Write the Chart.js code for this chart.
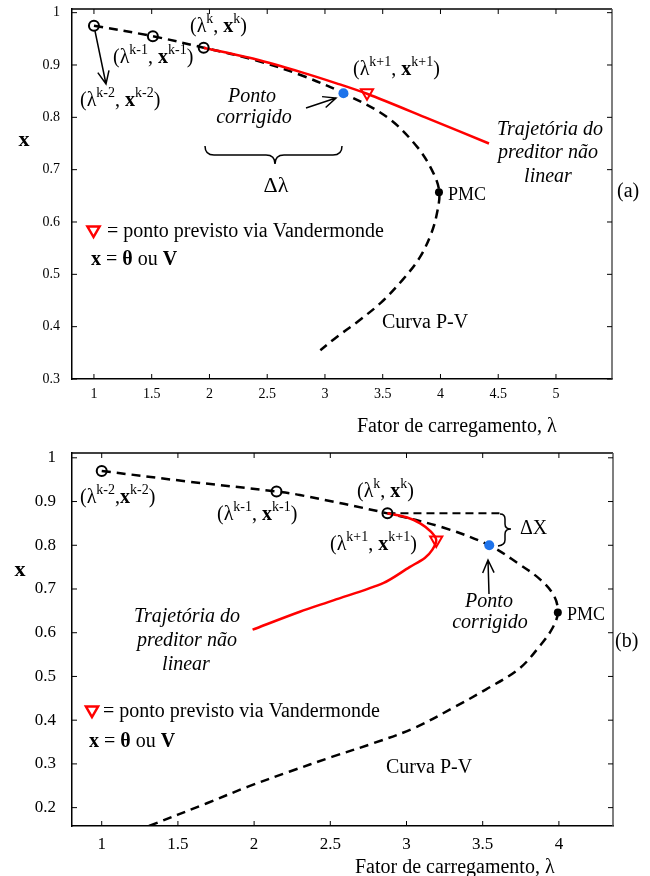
<!DOCTYPE html>
<html>
<head>
<meta charset="utf-8">
<script src="https://cdn.jsdelivr.net/npm/chart.js@4.4.0/dist/chart.umd.min.js"></script>
<style>
  html, body { margin: 0; padding: 0; background: #fff; }
  #wrap { position: relative; width: 650px; height: 876px; }
  canvas { position: absolute; left: 0; }
  #chartA { top: 0; }
  #chartB { top: 440px; }
</style>
</head>
<body>
<div id="wrap">
  <canvas id="chartA" width="650" height="440"></canvas>
  <canvas id="chartB" width="650" height="436"></canvas>
</div>
<script>
/* ---- (a) preditor com trajetória quase linear ---- */
const ticksLambdaA = [1, 1.5, 2, 2.5, 3, 3.5, 4, 4.5, 5];
const ticksXA      = [0.3, 0.4, 0.5, 0.6, 0.7, 0.8, 0.9, 1];

const pvLambdaA = [1.00, 1.51, 1.95, 2.40, 2.80, 3.16, 3.54, 3.80, 3.94, 3.99, 3.97, 3.92, 3.82, 3.67, 3.49, 3.28, 3.10, 2.96];
const pvXA      = [0.975, 0.955, 0.933, 0.909, 0.880, 0.846, 0.800, 0.743, 0.693, 0.657, 0.617, 0.578, 0.532, 0.489, 0.447, 0.409, 0.380, 0.355];

const predLambdaA = [1.95, 2.40, 2.80, 3.10, 3.364, 3.90, 4.42];
const predXA      = [0.933, 0.911, 0.886, 0.865, 0.845, 0.797, 0.750];

const pastLambdaA = [1.00, 1.51, 1.95];
const pastXA      = [0.975, 0.955, 0.933];
const nextLambdaA = [3.364];   // ponto previsto (Vandermonde)
const nextXA      = [0.847];
const corrLambdaA = [3.16];    // ponto corrigido
const corrXA      = [0.846];
const pmcLambdaA  = [3.987];
const pmcXA       = [0.657];

/* ---- (b) preditor com trajetória curva ---- */
const ticksLambdaB = [1, 1.5, 2, 2.5, 3, 3.5, 4];
const ticksXB      = [0.2, 0.3, 0.4, 0.5, 0.6, 0.7, 0.8, 0.9, 1];

const pvLambdaB = [1.00, 1.56, 2.147, 2.30, 2.875, 3.245, 3.543, 3.73, 3.88, 3.97, 3.993, 3.96, 3.88, 3.74, 3.52, 3.32, 3.05, 2.78, 2.51, 2.23, 1.96, 1.69, 1.31];
const pvXB      = [0.970, 0.946, 0.923, 0.915, 0.873, 0.840, 0.800, 0.759, 0.721, 0.683, 0.646, 0.612, 0.572, 0.518, 0.470, 0.431, 0.382, 0.347, 0.316, 0.282, 0.248, 0.210, 0.158];

const predLambdaB = [2.875, 3.00, 3.09, 3.16, 3.195, 3.17, 3.12, 3.02, 2.85, 2.52, 2.30, 1.99];
const predXB      = [0.873, 0.864, 0.850, 0.831, 0.812, 0.790, 0.771, 0.750, 0.714, 0.674, 0.648, 0.607];

const pastLambdaB = [1.00, 2.147, 2.875];
const pastXB      = [0.970, 0.923, 0.873];
const nextLambdaB = [3.195];
const nextXB      = [0.812];
const corrLambdaB = [3.543];
const corrXB      = [0.800];
const pmcLambdaB  = [3.993];
const pmcXB       = [0.646];
const dxLambdaB   = [2.875, 3.63];  // referência horizontal de Δx
const dxXB        = [0.873, 0.873];

const SERIF = '"Liberation Serif", "Times New Roman", serif';
Chart.defaults.font.family = SERIF;
Chart.defaults.color = '#000';

const RED = '#ff0000';
const BLUE = 'rgb(30, 115, 235)';

const pts = (ls, xs) => ls.map((l, i) => ({ x: l, y: xs[i] }));

function buildDatasets(d) {
  const sets = [
    { data: pts(d.pvL, d.pvX), showLine: true, borderColor: '#000', borderWidth: 2.5,
      borderDash: [9, 6], tension: 0.35, pointRadius: 0, order: 3 },
    { data: pts(d.predL, d.predX), showLine: true, borderColor: RED, borderWidth: 2.5,
      tension: 0.3, pointRadius: 0, order: 2 },
    { data: pts(d.pastL, d.pastX), showLine: false, pointRadius: 5, pointBorderWidth: 2,
      pointBorderColor: '#000', pointBackgroundColor: 'rgba(0,0,0,0)', order: 1 },
    { data: pts(d.nextL, d.nextX), showLine: false, pointStyle: 'triangle', rotation: 180,
      pointRadius: 7, pointBorderWidth: 2, pointBorderColor: RED,
      pointBackgroundColor: 'rgba(0,0,0,0)', order: 0 },
    { data: pts(d.corrL, d.corrX), showLine: false, pointRadius: 5, pointBorderWidth: 0,
      pointBackgroundColor: BLUE, order: 0 },
    { data: pts(d.pmcL, d.pmcX), showLine: false, pointRadius: 4, pointBorderWidth: 0,
      pointBackgroundColor: '#000', order: 0 }
  ];
  if (d.dxL) {
    sets.push({ data: pts(d.dxL, d.dxX), showLine: true, borderColor: '#000', borderWidth: 2,
      borderDash: [8, 5], pointRadius: 0, order: 3 });
  }
  return sets;
}

/* moldura com marcas internas nos quatro lados */
const frame = {
  id: 'frame',
  afterDatasetsDraw(chart) {
    const { ctx, chartArea: a, scales: { x, y } } = chart;
    const seg = (x1, y1, x2, y2) => { ctx.beginPath(); ctx.moveTo(x1, y1); ctx.lineTo(x2, y2); ctx.stroke(); };
    ctx.save();
    ctx.lineWidth = 1.5;
    ctx.strokeStyle = '#000';
    seg(a.left, a.top, a.right, a.top);
    ctx.strokeStyle = '#555';
    seg(a.right, a.top, a.right, a.bottom);
    ctx.strokeStyle = '#000';
    ctx.lineWidth = 1;
    const t = 5;
    x.ticks.forEach(tk => {
      const p = x.getPixelForValue(tk.value);
      seg(p, a.bottom, p, a.bottom - t);
      seg(p, a.top, p, a.top + t);
    });
    y.ticks.forEach(tk => {
      const p = y.getPixelForValue(tk.value);
      seg(a.left, p, a.left + t, p);
      seg(a.right, p, a.right - t, p);
    });
    ctx.restore();
  }
};

/* texto com sobrescritos, negrito e itálico: partes [texto, 'b'|'i'|'s'] */
function rich(ctx, x, y, parts, size, align) {
  const fontOf = f => (f.includes('i') ? 'italic ' : '') + (f.includes('b') ? 'bold ' : '') +
    (f.includes('s') ? Math.round(size * 0.68) : size) + 'px ' + SERIF;
  let w = 0;
  parts.forEach(([t, f = '']) => { ctx.font = fontOf(f); w += ctx.measureText(t).width; });
  let cx = align === 'center' ? x - w / 2 : align === 'right' ? x - w : x;
  ctx.textAlign = 'left';
  ctx.textBaseline = 'middle';
  parts.forEach(([t, f = '']) => {
    ctx.font = fontOf(f);
    ctx.fillText(t, cx, f.includes('s') ? y - size * 0.36 : y);
    cx += ctx.measureText(t).width;
  });
}

function arrow(ctx, x1, y1, x2, y2) {
  const ang = Math.atan2(y2 - y1, x2 - x1), L = 14, s = 0.42;
  ctx.beginPath();
  ctx.moveTo(x1, y1); ctx.lineTo(x2, y2);
  ctx.moveTo(x2 - L * Math.cos(ang - s), y2 - L * Math.sin(ang - s));
  ctx.lineTo(x2, y2);
  ctx.lineTo(x2 - L * Math.cos(ang + s), y2 - L * Math.sin(ang + s));
  ctx.stroke();
}

function downTriangle(ctx, cx, cy, r) {
  ctx.save();
  ctx.strokeStyle = RED;
  ctx.lineWidth = 2.5;
  ctx.beginPath();
  ctx.moveTo(cx, cy + r);
  ctx.lineTo(cx - r * 0.866, cy - r / 2);
  ctx.lineTo(cx + r * 0.866, cy - r / 2);
  ctx.closePath();
  ctx.stroke();
  ctx.restore();
}

const lam = (k) => [['(λ'], [k, 's'], [', '], ['x', 'b'], [k, 's'], [')']];

function notesA(chart) {
  const ctx = chart.ctx;
  ctx.save();
  ctx.fillStyle = '#000';
  ctx.strokeStyle = '#000';
  rich(ctx, 24, 140, [['x', 'b']], 22, 'center');
  rich(ctx, 190, 27, lam('k'), 20, 'left');
  rich(ctx, 113, 58, lam('k-1'), 20, 'left');
  rich(ctx, 80, 101, lam('k-2'), 20, 'left');
  rich(ctx, 353, 70, lam('k+1'), 20, 'left');
  rich(ctx, 252, 97, [['Ponto', 'i']], 20, 'center');
  rich(ctx, 254, 118, [['corrigido', 'i']], 20, 'center');
  rich(ctx, 276, 186, [['Δλ']], 22, 'center');
  rich(ctx, 550, 130, [['Trajetória do', 'i']], 20, 'center');
  rich(ctx, 548, 153, [['preditor não', 'i']], 20, 'center');
  rich(ctx, 548, 177, [['linear', 'i']], 20, 'center');
  rich(ctx, 448, 195, [['PMC']], 18, 'left');
  rich(ctx, 617, 192, [['(a)']], 20, 'left');
  downTriangle(ctx, 93.5, 230, 7);
  rich(ctx, 107, 232, [['= ponto previsto via Vandermonde']], 20, 'left');
  rich(ctx, 91, 260, [['x', 'b'], [' = '], ['θ', 'b'], [' ou '], ['V', 'b']], 20, 'left');
  rich(ctx, 382, 323, [['Curva P-V']], 20, 'left');
  rich(ctx, 357, 427, [['Fator de carregamento, λ']], 20, 'left');

  ctx.lineWidth = 1.5;
  arrow(ctx, 95, 31, 106, 84);
  arrow(ctx, 306, 108, 336, 98);
  // chave sob o intervalo Δλ
  ctx.beginPath();
  ctx.moveTo(205, 146);
  ctx.quadraticCurveTo(205, 155, 214, 155);
  ctx.lineTo(266, 155);
  ctx.quadraticCurveTo(275, 155, 275, 164);
  ctx.quadraticCurveTo(275, 155, 284, 155);
  ctx.lineTo(333, 155);
  ctx.quadraticCurveTo(342, 155, 342, 146);
  ctx.stroke();
  ctx.restore();
}

function notesB(chart) {
  const ctx = chart.ctx;
  ctx.save();
  ctx.translate(0, -440);
  ctx.fillStyle = '#000';
  ctx.strokeStyle = '#000';
  rich(ctx, 20, 570, [['x', 'b']], 22, 'center');
  rich(ctx, 80, 498, [['(λ'], ['k-2', 's'], [','], ['x', 'b'], ['k-2', 's'], [')']], 20, 'left');
  rich(ctx, 217, 515, lam('k-1'), 20, 'left');
  rich(ctx, 357, 492, lam('k'), 20, 'left');
  rich(ctx, 330, 545, lam('k+1'), 20, 'left');
  rich(ctx, 520, 529, [['ΔX']], 20, 'left');
  rich(ctx, 489, 602, [['Ponto', 'i']], 20, 'center');
  rich(ctx, 490, 623, [['corrigido', 'i']], 20, 'center');
  rich(ctx, 567, 615, [['PMC']], 18, 'left');
  rich(ctx, 615, 642, [['(b)']], 20, 'left');
  rich(ctx, 187, 617, [['Trajetória do', 'i']], 20, 'center');
  rich(ctx, 187, 641, [['preditor não', 'i']], 20, 'center');
  rich(ctx, 186, 665, [['linear', 'i']], 20, 'center');
  downTriangle(ctx, 92, 710, 7);
  rich(ctx, 103, 712, [['= ponto previsto via Vandermonde']], 20, 'left');
  rich(ctx, 89, 742, [['x', 'b'], [' = '], ['θ', 'b'], [' ou '], ['V', 'b']], 20, 'left');
  rich(ctx, 386, 768, [['Curva P-V']], 20, 'left');
  rich(ctx, 355, 868, [['Fator de carregamento, λ']], 20, 'left');

  ctx.lineWidth = 1.5;
  arrow(ctx, 489, 594, 488, 560);
  // chave vertical de Δx
  ctx.beginPath();
  ctx.moveTo(500, 514);
  ctx.quadraticCurveTo(505, 514, 505, 519);
  ctx.lineTo(505, 524);
  ctx.quadraticCurveTo(505, 529, 511, 529);
  ctx.quadraticCurveTo(505, 529, 505, 534);
  ctx.lineTo(505, 540);
  ctx.quadraticCurveTo(505, 545, 498, 546);
  ctx.stroke();
  ctx.restore();
}

function makeChart(id, d) {
  return new Chart(document.getElementById(id), {
    type: 'scatter',
    data: { datasets: buildDatasets(d) },
    options: {
      responsive: false,
      animation: false,
      devicePixelRatio: 1,
      layout: { padding: d.pad },
      plugins: { legend: { display: false }, tooltip: { enabled: false } },
      scales: {
        x: {
          type: 'linear', min: d.xMin, max: d.xMax,
          afterFit: s => { s.height = d.xAxisH; s.paddingLeft = 0; s.paddingRight = 0; },
          afterBuildTicks: s => { s.ticks = d.xTicks.map(v => ({ value: v })); },
          grid: { display: false, drawTicks: false },
          border: { display: true, color: '#000', width: 1.5 },
          ticks: { padding: d.xPad, font: { size: d.tickSize }, color: '#000',
                   maxRotation: 0, autoSkip: false, callback: v => String(v) }
        },
        y: {
          type: 'linear', min: d.yMin, max: d.yMax,
          afterFit: s => { s.width = 72; s.paddingTop = 0; s.paddingBottom = 0; },
          afterBuildTicks: s => { s.ticks = d.yTicks.map(v => ({ value: v })); },
          grid: { display: false, drawTicks: false },
          border: { display: true, color: '#000', width: 1.5 },
          ticks: { padding: d.yPad, font: { size: d.tickSize }, color: '#000',
                   autoSkip: false, callback: v => String(v) }
        }
      }
    },
    plugins: [frame, { id: 'notes', afterDraw: d.notes }]
  });
}

makeChart('chartA', {
  pvL: pvLambdaA, pvX: pvXA, predL: predLambdaA, predX: predXA,
  pastL: pastLambdaA, pastX: pastXA, nextL: nextLambdaA, nextX: nextXA,
  corrL: corrLambdaA, corrX: corrXA, pmcL: pmcLambdaA, pmcX: pmcXA,
  xTicks: ticksLambdaA, yTicks: ticksXA,
  xMin: 0.81, xMax: 5.485, yMin: 0.3, yMax: 1.007,
  pad: { top: 8, right: 38, left: 0, bottom: 0 }, xAxisH: 61,
  xPad: 7, yPad: 12, tickSize: 14, notes: notesA
});

makeChart('chartB', {
  pvL: pvLambdaB, pvX: pvXB, predL: predLambdaB, predX: predXB,
  pastL: pastLambdaB, pastX: pastXB, nextL: nextLambdaB, nextX: nextXB,
  corrL: corrLambdaB, corrX: corrXB, pmcL: pmcLambdaB, pmcX: pmcXB,
  dxL: dxLambdaB, dxX: dxXB,
  xTicks: ticksLambdaB, yTicks: ticksXB,
  xMin: 0.805, xMax: 4.355, yMin: 0.158, yMax: 1.011,
  pad: { top: 13, right: 37, left: 0, bottom: 0 }, xAxisH: 50,
  xPad: 8, yPad: 16, tickSize: 17, notes: notesB
});
</script>
</body>
</html>
